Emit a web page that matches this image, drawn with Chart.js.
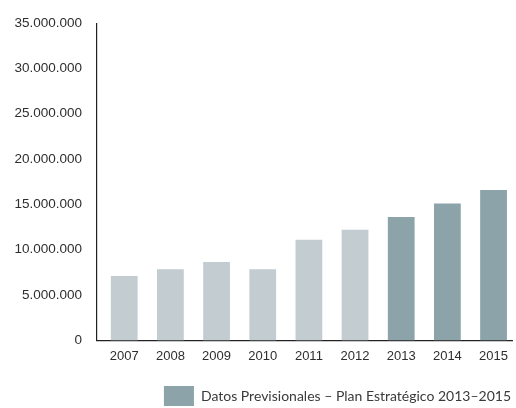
<!DOCTYPE html>
<html>
<head>
<meta charset="utf-8">
<script src="https://cdn.jsdelivr.net/npm/chart.js@4"></script>
<style>
  html, body { margin: 0; padding: 0; background: #fff; overflow: hidden; }
  #wrap { width: 516px; height: 416px; }
</style>
</head>
<body>
<div id="wrap"><canvas id="grafico"></canvas></div>
<script>
// Datos
const anios = [2007, 2008, 2009, 2010, 2011, 2012, 2013, 2014, 2015];
const valores = [7100000, 7850000, 8650000, 7850000, 11100000, 12200000, 13600000, 15100000, 16600000];
const primerAnioPrevision = 2013;
const etiquetaReal = 'Datos Reales';
const etiquetaPrevision = 'Datos Previsionales \u2013 Plan Estrat\u00e9gico 2013\u20132015';
const ticksY = [0, 5000000, 10000000, 15000000, 20000000, 25000000, 30000000, 35000000];

const colorReal = '#c3cdd1';
const colorPrevision = '#8ba3a9';
const colorTexto = '#2e2e2e';

const puntosReales = anios.map((a, i) => ({ x: a, y: a < primerAnioPrevision ? valores[i] : null }));
const puntosPrevision = anios.map((a, i) => ({ x: a, y: a >= primerAnioPrevision ? valores[i] : null }));

function conPuntos(v) {
  return String(v).replace(/\B(?=(\d{3})+(?!\d))/g, '.');
}

new Chart(document.getElementById('grafico').getContext('2d'), {
  type: 'bar',
  data: {
    datasets: [
      { label: etiquetaReal, data: puntosReales, backgroundColor: colorReal, barPercentage: 0.58, categoryPercentage: 1 },
      { label: etiquetaPrevision, data: puntosPrevision, backgroundColor: colorPrevision, barPercentage: 0.58, categoryPercentage: 1 }
    ]
  },
  options: {
    responsive: true,
    maintainAspectRatio: false,
    animation: false,
    layout: { padding: { top: 23, right: 0, left: 0, bottom: 0 } },
    plugins: {
      tooltip: { enabled: false },
      legend: {
        position: 'bottom',
        align: 'end',
        labels: {
          filter: item => item.datasetIndex === 1,
          boxWidth: 30,
          boxHeight: 20,
          color: '#3a3a3a',
          padding: 5,
          font: { family: 'Lato', size: 14 }
        }
      }
    },
    scales: {
      x: {
        type: 'linear',
        stacked: true,
        offset: false,
        min: 2006.41,
        max: 2015.42,
        afterBuildTicks: axis => { axis.ticks = anios.map(a => ({ value: a })); },
        afterFit: axis => { axis.height += 9; },
        grid: { display: false, drawTicks: false },
        border: { display: true, color: '#222', width: 1.2 },
        ticks: {
          color: colorTexto,
          padding: 8,
          autoSkip: false,
          maxRotation: 0,
          font: { family: 'Liberation Sans', size: 13 },
          callback: v => String(v)
        }
      },
      y: {
        stacked: true,
        min: 0,
        max: 35000000,
        afterBuildTicks: axis => { axis.ticks = ticksY.map(v => ({ value: v })); },
        afterFit: axis => { axis.width = 97; },
        grid: { display: false, drawTicks: false },
        border: { display: true, color: '#222', width: 1.2 },
        ticks: {
          color: colorTexto,
          padding: 15,
          font: { family: 'Liberation Sans', size: 13.5 },
          callback: v => conPuntos(v)
        }
      }
    }
  }
});
</script>
</body>
</html>
